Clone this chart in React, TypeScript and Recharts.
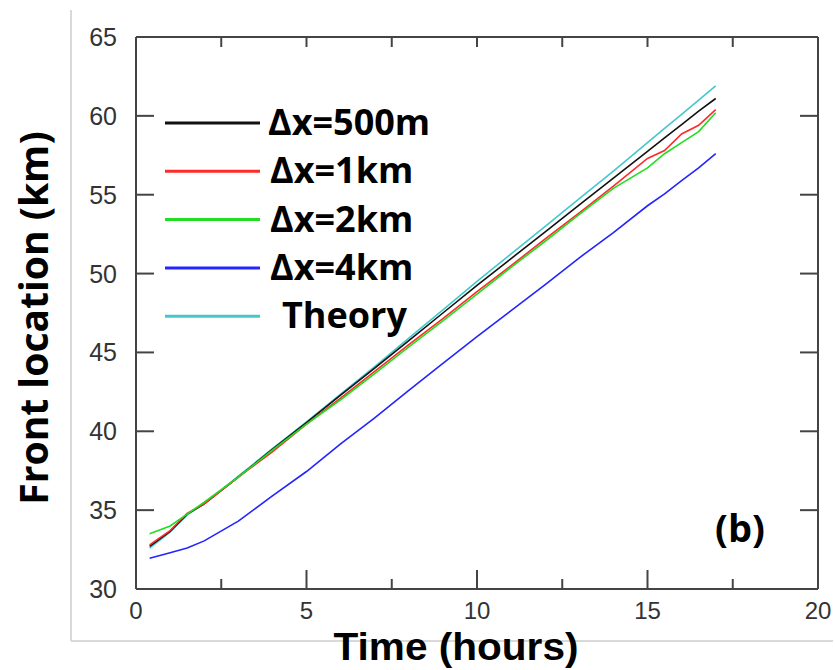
import React from 'react';
import { LineChart, Line, XAxis, YAxis } from 'recharts';

// ---- data (hours, km) ----
const HOURS = [0.4, 1, 1.5, 2, 3, 4, 5, 6, 7, 8, 9, 10, 11, 12, 13, 14, 15, 15.5, 16, 16.5, 17];
const DX_500M = [32.7, 33.65, 34.75, 35.4, 37.1, 38.85, 40.55, 42.3, 44.0, 45.75, 47.5, 49.25, 50.95, 52.65, 54.35, 56.05, 57.75, 58.6, 59.45, 60.3, 61.1];
const DX_1KM = [32.8, 33.7, 34.8, 35.4, 37.1, 38.7, 40.45, 42.1, 43.8, 45.5, 47.15, 48.85, 50.5, 52.2, 53.85, 55.55, 57.3, 57.8, 58.85, 59.4, 60.4];
const DX_2KM = [33.5, 34.0, 34.75, 35.5, 37.1, 38.8, 40.45, 42.0, 43.65, 45.35, 47.0, 48.7, 50.4, 52.05, 53.75, 55.4, 56.7, 57.6, 58.3, 59.0, 60.2];
const DX_4KM = [31.95, 32.3, 32.6, 33.05, 34.3, 35.9, 37.45, 39.2, 40.85, 42.6, 44.3, 46.0, 47.65, 49.3, 51.0, 52.6, 54.3, 55.05, 55.9, 56.7, 57.6];
const THEORY = [32.6, 33.6, 34.7, 35.4, 37.15, 38.9, 40.6, 42.35, 44.1, 45.9, 47.7, 49.5, 51.25, 53.0, 54.75, 56.5, 58.3, 59.2, 60.1, 61.0, 61.9];

const SERIES_NAMES = ['\u0394x=500m', '\u0394x=1km', '\u0394x=2km', '\u0394x=4km', 'Theory'];
const X_TICKS = [0, 2.5, 5, 7.5, 10, 12.5, 15, 17.5, 20];
const X_LABELS = [0, 5, 10, 15, 20];
const Y_TICKS = [30, 35, 40, 45, 50, 55, 60, 65];
const X_DOMAIN = [0, 20];
const Y_DOMAIN = [30, 65];
const X_TITLE = 'Time (hours)';
const Y_TITLE = 'Front location (km)';
const PANEL = '(b)';

// ---- styles ----
const COLORS = ['#111111', '#ff2a2a', '#22dd22', '#2424ff', '#44c8cc'];
const DRAW_ORDER = [4, 0, 1, 2, 3];
const VALUES = [DX_500M, DX_1KM, DX_2KM, DX_4KM, THEORY];
const AXIS_COLOR = '#444';
const TICK_FONT = '"Liberation Sans", Arial, sans-serif';
const BOLD_FONT = '"Open Sans", "Liberation Sans", sans-serif';
const TITLE_FONT = '"Liberation Sans", Arial, sans-serif';

const W = 835;
const H = 670;

const toPoints = (vals: number[]) => HOURS.map((t, i) => ({ t, v: vals[i] }));

const BottomTick = (props: any) => {
  const { x, y, payload } = props;
  const v = payload.value as number;
  const isMajor = v % 5 === 0;
  const isEdge = v === X_DOMAIN[0] || v === X_DOMAIN[1];
  const len = isMajor ? 19 : 10;
  return (
    <g>
      {!isEdge && <line x1={x} x2={x} y1={y} y2={y - len} stroke={AXIS_COLOR} strokeWidth={2} />}
      {X_LABELS.includes(v) && (
        <text x={x} y={y + 30} textAnchor="middle" fontFamily={TICK_FONT} fontSize={24} fill="#333">
          {v}
        </text>
      )}
    </g>
  );
};

const TopTick = (props: any) => {
  const { x, y, payload } = props;
  const v = payload.value as number;
  if (v === X_DOMAIN[0] || v === X_DOMAIN[1]) return <g />;
  return <line x1={x} x2={x} y1={y} y2={y + 10} stroke={AXIS_COLOR} strokeWidth={2} />;
};

const LeftTick = (props: any) => {
  const { x, y, payload } = props;
  const v = payload.value as number;
  const isEdge = v === Y_DOMAIN[0] || v === Y_DOMAIN[1];
  return (
    <g>
      {!isEdge && <line x1={x} x2={x + 18} y1={y} y2={y} stroke={AXIS_COLOR} strokeWidth={2} />}
      <text x={x - 19} y={y + 9} textAnchor="end" fontFamily={TICK_FONT} fontSize={25} fill="#333">
        {v}
      </text>
    </g>
  );
};

const RightTick = (props: any) => {
  const { x, y, payload } = props;
  const v = payload.value as number;
  if (v === Y_DOMAIN[0] || v === Y_DOMAIN[1]) return <g />;
  return <line x1={x} x2={x - 18} y1={y} y2={y} stroke={AXIS_COLOR} strokeWidth={2} />;
};

const LEGEND_X0 = 165;
const LEGEND_X1 = 260;
const LEGEND_Y0 = 123;
const LEGEND_DY = 48.3;
const LEGEND_TEXT_X = [268, 270, 270, 270, 282];

export default function App() {
  return (
    <div style={{ position: 'absolute', left: 0, top: 0, width: W, height: H, background: '#fff' }}>
      <LineChart
        width={W}
        height={H}
        margin={{ top: 27, right: 7, bottom: 41, left: 76 }}
      >
        <XAxis
          xAxisId="b"
          type="number"
          dataKey="t"
          domain={X_DOMAIN}
          ticks={X_TICKS}
          interval={0}
          height={40}
          tickSize={0}
          tickMargin={0}
          tickLine={false}
          tick={<BottomTick />}
          axisLine={{ stroke: AXIS_COLOR, strokeWidth: 2 }}
          allowDataOverflow
        />
        <XAxis
          xAxisId="t"
          orientation="top"
          type="number"
          dataKey="t"
          domain={X_DOMAIN}
          ticks={X_TICKS}
          interval={0}
          height={10}
          tickSize={0}
          tickMargin={0}
          tickLine={false}
          tick={<TopTick />}
          axisLine={{ stroke: AXIS_COLOR, strokeWidth: 2 }}
          allowDataOverflow
        />
        <YAxis
          yAxisId="l"
          type="number"
          domain={Y_DOMAIN}
          ticks={Y_TICKS}
          interval={0}
          width={60}
          tickSize={0}
          tickMargin={0}
          tickLine={false}
          tick={<LeftTick />}
          axisLine={{ stroke: AXIS_COLOR, strokeWidth: 2 }}
          allowDataOverflow
        />
        <YAxis
          yAxisId="r"
          orientation="right"
          type="number"
          domain={Y_DOMAIN}
          ticks={Y_TICKS}
          interval={0}
          width={10}
          tickSize={0}
          tickMargin={0}
          tickLine={false}
          tick={<RightTick />}
          axisLine={{ stroke: AXIS_COLOR, strokeWidth: 2 }}
          allowDataOverflow
        />
        {DRAW_ORDER.map((i) => (
          <Line
            key={SERIES_NAMES[i]}
            name={SERIES_NAMES[i]}
            data={toPoints(VALUES[i])}
            dataKey="v"
            xAxisId="b"
            yAxisId="l"
            type="linear"
            stroke={COLORS[i]}
            strokeWidth={1.6}
            dot={false}
            activeDot={false}
            isAnimationActive={false}
          />
        ))}
      </LineChart>
      <svg
        width={W}
        height={H}
        style={{ position: 'absolute', left: 0, top: 0, pointerEvents: 'none' }}
      >
        <line x1={71} x2={71} y1={10} y2={641} stroke="#d9d9d9" strokeWidth={2} />
        <line x1={71} x2={833} y1={641} y2={641} stroke="#d9d9d9" strokeWidth={2} />
        {SERIES_NAMES.map((name, i) => {
          const cy = LEGEND_Y0 + i * LEGEND_DY;
          return (
            <g key={name}>
              <line x1={LEGEND_X0} x2={LEGEND_X1} y1={cy} y2={cy} stroke={COLORS[i]} strokeWidth={3} />
              <text x={LEGEND_TEXT_X[i]} y={cy + 12} fontFamily={BOLD_FONT} fontWeight={700} fontSize={36} fill="#000">
                {name}
              </text>
            </g>
          );
        })}
        <text x={740} y={542} textAnchor="middle" fontFamily={BOLD_FONT} fontWeight={700} fontSize={38} fill="#000">
          {PANEL}
        </text>
        <text
          x={456}
          y={660}
          textAnchor="middle"
          fontFamily={TITLE_FONT}
          fontWeight={700}
          fontSize={38}
          textLength={245}
          lengthAdjust="spacingAndGlyphs"
          fill="#000"
        >
          {X_TITLE}
        </text>
        <text
          x={48}
          y={318}
          textAnchor="middle"
          transform="rotate(-90 48 318)"
          fontFamily={BOLD_FONT}
          fontWeight={700}
          fontSize={39}
          fill="#000"
        >
          {Y_TITLE}
        </text>
      </svg>
    </div>
  );
}
